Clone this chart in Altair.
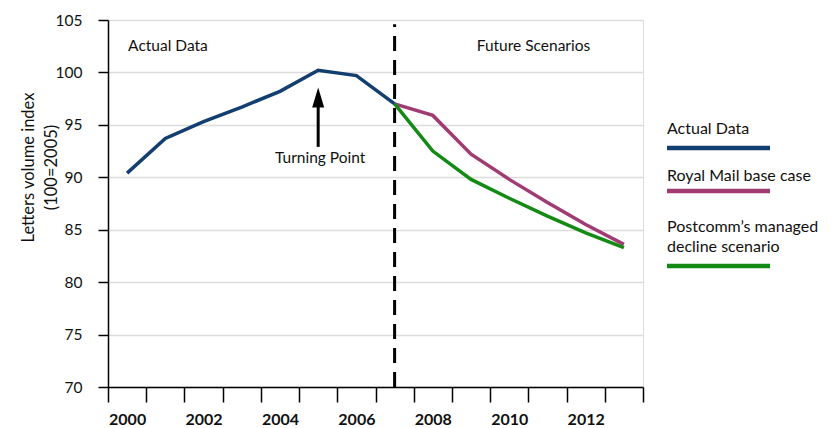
import altair as alt
import pandas as pd

# ---- data ----
all_years = ["2000", "2001", "2002", "2003", "2004", "2005", "2006",
             "2007", "2008", "2009", "2010", "2011", "2012", "2013"]

actual_years = ["2000", "2001", "2002", "2003", "2004", "2005", "2006", "2007"]
actual_values = [90.4, 93.7, 95.3, 96.7, 98.2, 100.2, 99.7, 97.0]

future_years = ["2007", "2008", "2009", "2010", "2011", "2012", "2013"]
royal_mail_values = [97.0, 95.9, 92.2, 89.8, 87.6, 85.5, 83.6]
postcomm_values = [97.0, 92.5, 89.8, 88.0, 86.3, 84.7, 83.3]

series_names = ["Actual Data", "Royal Mail base case", "Postcomm\u2019s managed decline scenario"]
series_colors = ["#123f70", "#a03c72", "#138a13"]
legend_lines = [["Actual Data"], ["Royal Mail base case"], ["Postcomm\u2019s managed", "decline scenario"]]

y_ticks = [70, 75, 80, 85, 90, 95, 100, 105]

FONT = "Lato"
TXT = "#111111"

df = pd.concat([
    pd.DataFrame({"year": actual_years, "value": actual_values, "series": series_names[0]}),
    pd.DataFrame({"year": future_years, "value": royal_mail_values, "series": series_names[1]}),
    pd.DataFrame({"year": future_years, "value": postcomm_values, "series": series_names[2]}),
], ignore_index=True)

x_enc = alt.X(
    "year:O",
    scale=alt.Scale(type="band", domain=all_years, paddingInner=0, paddingOuter=0),
    axis=alt.Axis(
        title=None, labelAngle=0, tickBand="extent", tickSize=15, tickWidth=1.5,
        tickColor="#000000", domainColor="#000000", domainWidth=1.5,
        labelExpr="toNumber(datum.value) % 2 == 0 ? datum.label : ''",
        labelFont=FONT, labelFontSize=16, labelColor=TXT, labelPadding=9,
        labelFontWeight="bold", grid=False,
    ),
)
y_enc = alt.Y(
    "value:Q",
    scale=alt.Scale(domain=[70, 105], nice=False, zero=False),
    axis=alt.Axis(
        values=y_ticks, tickSize=10, tickWidth=1.5, tickColor="#000000",
        domainColor="#000000", domainWidth=1.5, labelFont=FONT, labelFontSize=15.5,
        labelColor=TXT, labelPadding=16, grid=True, gridColor="#dcdcdc", gridWidth=1.5,
        title=["Letters volume index", "(100=2005)"], titleFont=FONT, titleFontSize=16.5,
        titleFontWeight="normal", titleColor=TXT, titleAngle=-90, titleX=-80, titleY=147,
        titleAlign="center", titleBaseline="middle", titleLineHeight=23,
    ),
)

lines = alt.Chart(df).mark_line(strokeWidth=3.5).encode(
    x=x_enc, y=y_enc,
    color=alt.Color("series:N", scale=alt.Scale(domain=series_names, range=series_colors), legend=None),
)

divider = alt.Chart(pd.DataFrame({"year": ["2007"], "value": [70], "value2": [104.6]})).mark_rule(
    strokeDash=[15, 9], strokeWidth=3, color="#000000"
).encode(x=x_enc, y=y_enc, y2="value2:Q")

shaft = alt.Chart(pd.DataFrame({"year": ["2005"], "value": [92.9], "value2": [97.6]})).mark_rule(
    strokeWidth=3, color="#000000"
).encode(x=x_enc, y=y_enc, y2="value2:Q")

head = alt.Chart(pd.DataFrame({"year": ["2005"], "value": [97.6]})).mark_point(
    shape="M0,-1L0.6,1L-0.6,1Z", size=400, filled=True, color="#000000", opacity=1
).encode(x=x_enc, y=y_enc)

def note(text, year, value, align, dx):
    return alt.Chart(pd.DataFrame({"year": [year], "value": [value], "t": [text]})).mark_text(
        font=FONT, fontSize=15.5, color=TXT, align=align, baseline="middle", dx=dx
    ).encode(x=x_enc, y=y_enc, text="t:N")

notes = [
    note("Actual Data", "2000", 102.5, "left", 1),
    note("Future Scenarios", "2011", 102.5, "center", -14),
    note("Turning Point", "2005", 91.8, "center", 2),
]

legend_layers = []
label_y = [[109], [156], [207, 227]]
line_y = [128, 171, 246]
for i, name in enumerate(series_names):
    for j, part in enumerate(legend_lines[i]):
        legend_layers.append(
            alt.Chart(pd.DataFrame({"t": [part]})).mark_text(
                font=FONT, fontSize=16, color=TXT, align="left", baseline="middle"
            ).encode(x=alt.value(559), y=alt.value(label_y[i][j]), text="t:N")
        )
    legend_layers.append(
        alt.Chart(pd.DataFrame({"series": [name]})).mark_rule(
            strokeWidth=4.5, color=series_colors[i]
        ).encode(x=alt.value(559), x2=alt.value(662), y=alt.value(line_y[i]))
    )

chart = alt.layer(lines, divider, shaft, head, *notes, *legend_layers).properties(
    width=535, height=367,
    padding={"left": 100, "top": 12, "right": 184, "bottom": 40},
    autosize=alt.AutoSizeParams(type="none"),
).configure_view(stroke=None).configure(background="#ffffff")

chart.save("out.html", embed_options={"renderer": "svg", "actions": False})
